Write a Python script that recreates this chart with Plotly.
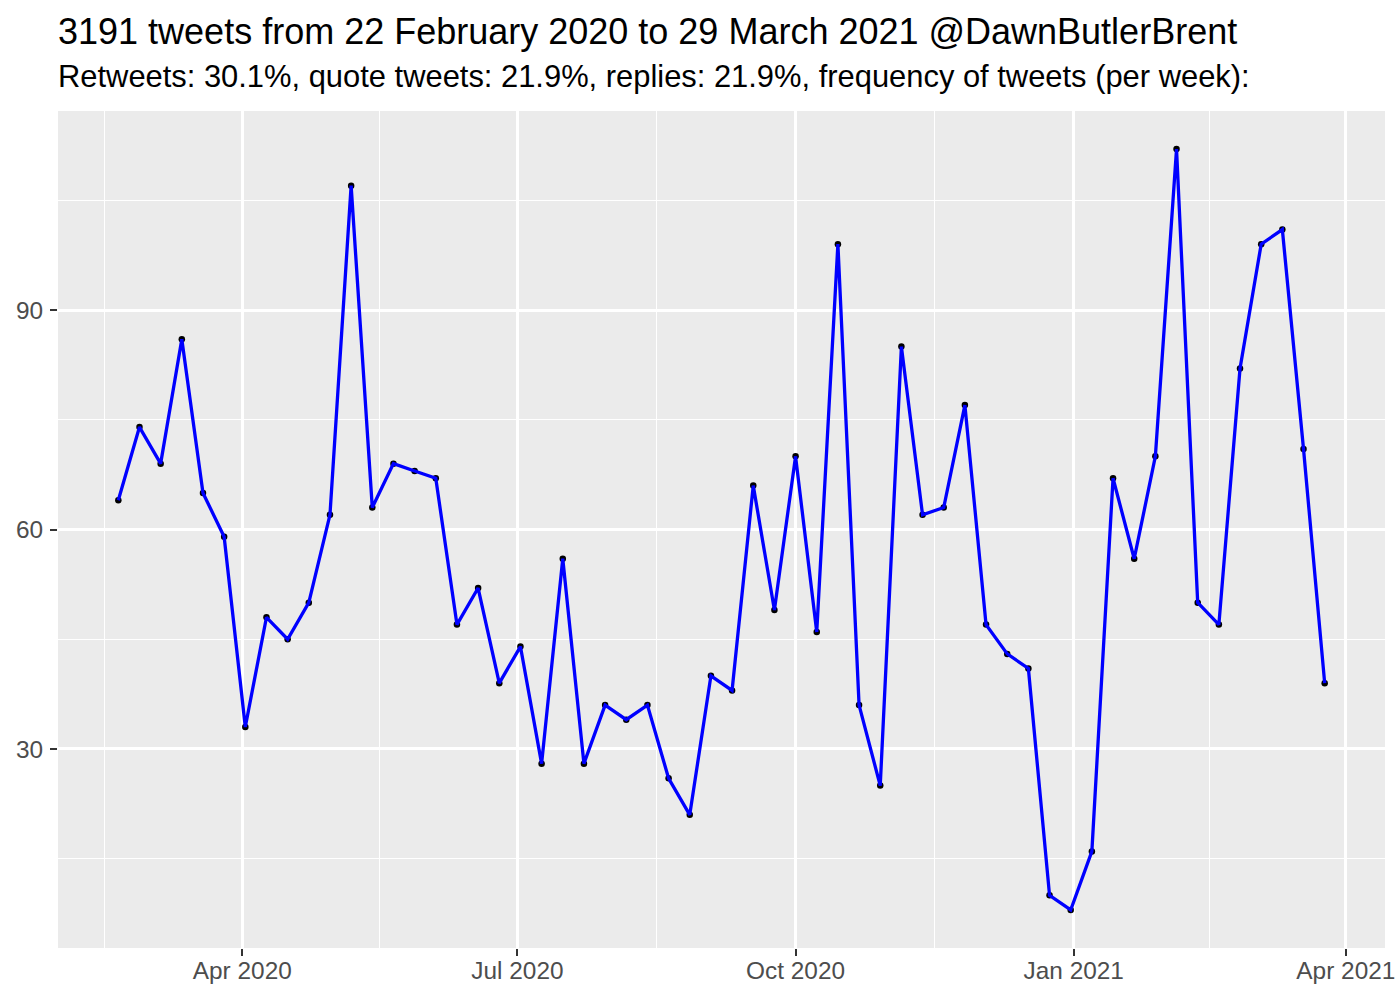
import pandas as pd
import plotly.graph_objects as go

# Weekly tweet counts (weeks starting 2020-02-20)
week_start = "2020-02-20"
counts = [64, 74, 69, 86, 65, 59, 33, 48, 45, 50, 62, 107, 63, 69, 68, 67, 47, 52, 39, 44,
          28, 56, 28, 36, 34, 36, 26, 21, 40, 38, 66, 49, 70, 46, 99, 36, 25, 85, 62, 63,
          77, 47, 43, 41, 10, 8, 16, 67, 56, 70, 112, 50, 47, 82, 99, 101, 71, 39]
weeks = pd.date_range(week_start, periods=len(counts), freq="7D")

x_tickvals = ["2020-04-01", "2020-07-01", "2020-10-01", "2021-01-01", "2021-04-01"]
x_ticktext = ["Apr 2020", "Jul 2020", "Oct 2020", "Jan 2021", "Apr 2021"]
x_minor = ["2020-02-15 12:00", "2020-05-16 12:00", "2020-08-16", "2020-11-16", "2021-02-15"]
y_tickvals = [30, 60, 90]
y_minor = [15, 45, 75, 105]

title = "3191 tweets from 22 February 2020 to 29 March 2021 @DawnButlerBrent"
subtitle = "Retweets: 30.1%, quote tweets: 21.9%, replies: 21.9%, frequency of tweets (per week):"

# ggplot-like 5% expansion
span = weeks[-1] - weeks[0]
pad = span * 0.05
ymin, ymax = min(counts), max(counts)
ypad = (ymax - ymin) * 0.05

font = "Liberation Sans, Arial, Helvetica, sans-serif"

fig = go.Figure()
fig.add_trace(go.Scatter(x=weeks, y=counts, mode="markers",
                         marker=dict(color="black", size=6.5), hoverinfo="skip", showlegend=False))
fig.add_trace(go.Scatter(x=weeks, y=counts, mode="lines",
                         line=dict(color="#0000FF", width=3.3), showlegend=False))

fig.update_layout(
    width=1400, height=1000,
    margin=dict(l=58, r=15, t=111, b=52, autoexpand=False),
    paper_bgcolor="white", plot_bgcolor="#EBEBEB",
    font=dict(family=font, color="#4D4D4D"),
    xaxis=dict(
        range=[weeks[0] - pad, weeks[-1] + pad],
        automargin=False,
        tickmode="array", tickvals=x_tickvals, ticktext=x_ticktext,
        showgrid=True, gridcolor="white", gridwidth=2.7,
        ticks="outside", ticklen=7, tickwidth=2.2, tickcolor="#333333",
        ticklabelstandoff=-6, ticklabeloverflow="allow",
        tickfont=dict(size=24.4, color="#4D4D4D", family=font),
        zeroline=False, showline=False,
        minor=dict(tickmode="array", tickvals=x_minor, showgrid=True,
                   gridcolor="white", gridwidth=1.4, ticks=""),
    ),
    yaxis=dict(
        range=[ymin - ypad, ymax + ypad],
        automargin=False,
        tickmode="array", tickvals=y_tickvals,
        showgrid=True, gridcolor="white", gridwidth=2.7,
        ticks="outside", ticklen=7, tickwidth=2.2, tickcolor="#333333",
        ticklabelstandoff=2,
        tickfont=dict(size=24.4, color="#4D4D4D", family=font),
        zeroline=False, showline=False,
        minor=dict(tickmode="array", tickvals=y_minor, showgrid=True,
                   gridcolor="white", gridwidth=1.4, ticks=""),
    ),
    annotations=[
        dict(text=title, xref="paper", yref="paper", x=0, y=1, xanchor="left", yanchor="bottom",
             yshift=57, xshift=-2, showarrow=False, font=dict(size=36.0, color="black", family=font)),
        dict(text=subtitle, xref="paper", yref="paper", x=0, y=1, xanchor="left", yanchor="bottom",
             yshift=15, xshift=-2, showarrow=False, font=dict(size=30.9, color="black", family=font)),
    ],
)

# remove the default 8px page margin so the 1400x1000 figure fills the window exactly
fig.write_html("out.html", config={"displayModeBar": False},
               post_script="document.body.style.margin='0';document.body.style.overflow='hidden';")
